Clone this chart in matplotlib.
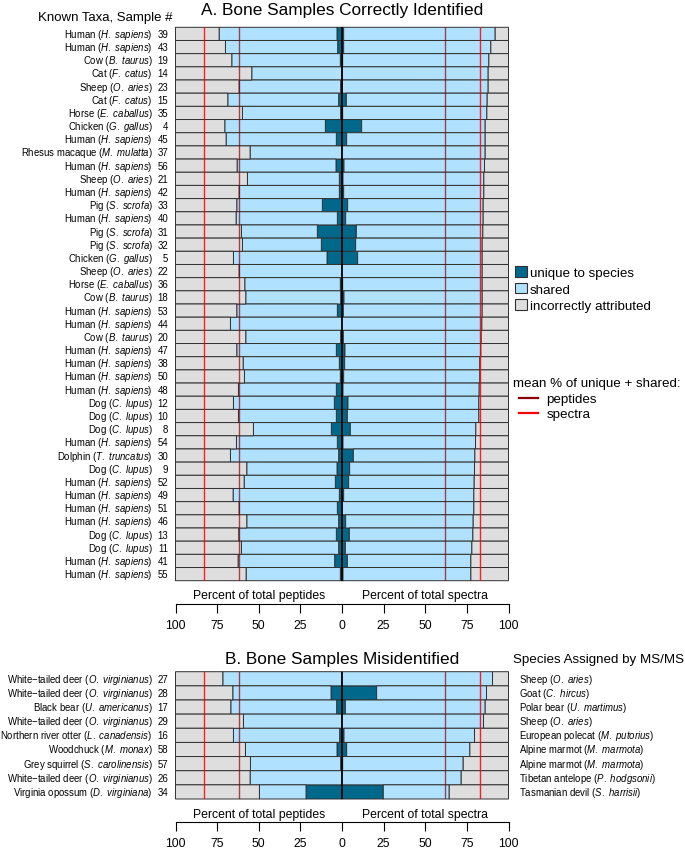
import matplotlib.pyplot as plt
import numpy as np
from matplotlib.lines import Line2D
from matplotlib.patches import Patch

plt.rcParams["font.family"] = "Liberation Sans"
plt.rcParams["mathtext.fontset"] = "custom"
plt.rcParams["mathtext.rm"] = "Liberation Sans"
plt.rcParams["mathtext.it"] = "Liberation Sans:italic"

FIG_W, FIG_H = 685, 854
UNIQUE_COLOR = "#00688B"
SHARED_COLOR = "#B0E2FF"
WRONG_COLOR = "#DEDEDE"
EDGE_COLOR = "#303030"
PEP_LINE = "#8B0000"
SPEC_LINE = "#FF0000"

# A. bone samples correctly identified (percent of total peptides / spectra)
A_COMMON = ["Human", "Human", "Cow", "Cat", "Sheep", "Cat", "Horse", "Chicken", "Human",
            "Rhesus macaque", "Human", "Sheep", "Human", "Pig", "Human", "Pig", "Pig",
            "Chicken", "Sheep", "Horse", "Cow", "Human", "Human", "Cow", "Human", "Human",
            "Human", "Human", "Dog", "Dog", "Dog", "Human", "Dolphin", "Dog", "Human",
            "Human", "Human", "Human", "Dog", "Dog", "Human", "Human"]
A_SCI = ["H. sapiens", "H. sapiens", "B. taurus", "F. catus", "O. aries", "F. catus",
         "E. caballus", "G. gallus", "H. sapiens", "M. mulatta", "H. sapiens", "O. aries",
         "H. sapiens", "S. scrofa", "H. sapiens", "S. scrofa", "S. scrofa", "G. gallus",
         "O. aries", "E. caballus", "B. taurus", "H. sapiens", "H. sapiens", "B. taurus",
         "H. sapiens", "H. sapiens", "H. sapiens", "H. sapiens", "C. lupus", "C. lupus",
         "C. lupus", "H. sapiens", "T. truncatus", "C. lupus", "H. sapiens", "H. sapiens",
         "H. sapiens", "H. sapiens", "C. lupus", "C. lupus", "H. sapiens", "H. sapiens"]
A_SAMPLE = [39, 43, 19, 14, 23, 15, 35, 4, 45, 37, 56, 21, 42, 33, 40, 31, 32, 5, 22, 36,
            18, 53, 44, 20, 47, 38, 50, 48, 12, 10, 8, 54, 30, 9, 52, 49, 51, 46, 13, 11,
            41, 55]
A_PEP_UNIQUE = [3.0, 2.6, 1.0, 0.3, 0.8, 2.0, 0.8, 10.0, 3.4, 0.0, 3.6, 1.6, 1.6, 11.8,
                2.8, 14.8, 12.4, 9.0, 0.0, 1.0, 0.8, 2.8, 0.0, 0.8, 3.4, 1.6, 1.0, 3.4,
                4.6, 3.4, 6.4, 2.8, 2.0, 3.0, 4.0, 1.6, 2.8, 2.0, 3.4, 2.0, 4.4, 1.0]
A_PEP_SHARED = [70.8, 67.4, 65.2, 53.9, 61.0, 66.6, 59.0, 60.4, 66.2, 55.2, 59.4, 55.2,
                60.2, 51.4, 60.8, 45.6, 47.4, 56.2, 61.8, 57.4, 57.0, 60.4, 67.0, 57.0,
                59.8, 57.8, 57.6, 58.8, 60.6, 58.8, 46.8, 60.6, 65.0, 54.2, 54.8, 63.8,
                59.0, 55.2, 58.6, 58.4, 58.0, 56.6]
A_SPEC_UNIQUE = [1.0, 1.0, 0.4, 0.2, 0.3, 2.6, 0.4, 11.8, 2.8, 0.0, 1.2, 0.6, 1.0, 3.4,
                 2.2, 8.6, 8.2, 9.4, 0.0, 0.4, 1.2, 0.8, 0.0, 0.8, 1.8, 1.6, 1.0, 0.6,
                 3.6, 3.2, 5.0, 0.6, 6.8, 4.6, 4.0, 1.0, 0.2, 2.2, 4.4, 2.0, 3.2, 0.6]
A_SPEC_SHARED = [91.0, 88.4, 87.8, 87.6, 87.5, 84.6, 86.6, 74.2, 83.2, 86.0, 84.4, 84.6,
                 84.2, 81.4, 82.6, 76.0, 76.0, 74.8, 84.2, 83.8, 83.0, 83.4, 84.0, 82.8,
                 81.6, 81.2, 81.8, 81.8, 78.6, 79.0, 75.4, 79.6, 73.0, 75.0, 75.4, 78.2,
                 79.0, 76.6, 74.2, 76.0, 74.2, 76.8]

# B. bone samples misidentified
B_COMMON = ["White\u2212tailed deer", "White\u2212tailed deer", "Black bear",
            "White\u2212tailed deer", "Northern river otter", "Woodchuck", "Grey squirrel",
            "White\u2212tailed deer", "Virginia opossum"]
B_SCI = ["O. virginianus", "O. virginianus", "U. americanus", "O. virginianus",
         "L. canadensis", "M. monax", "S. carolinensis", "O. virginianus", "D. virginiana"]
B_SAMPLE = [27, 28, 17, 29, 16, 58, 57, 26, 34]
B_ASSIGNED_COMMON = ["Sheep", "Goat", "Polar bear", "Sheep", "European polecat",
                     "Alpine marmot", "Alpine marmot", "Tibetan antelope", "Tasmanian devil"]
B_ASSIGNED_SCI = ["O. aries", "C. hircus", "U. martimus", "O. aries", "M. putorius",
                  "M. marmota", "M. marmota", "P. hodgsonii", "S. harrisii"]
B_PEP_UNIQUE = [0.0, 6.6, 3.2, 0.0, 1.4, 3.0, 0.8, 0.0, 21.6]
B_PEP_SHARED = [71.6, 59.0, 63.6, 59.2, 63.8, 55.0, 54.2, 55.2, 28.0]
B_SPEC_UNIQUE = [0.0, 20.8, 2.0, 0.0, 1.2, 2.8, 0.4, 0.0, 24.8]
B_SPEC_SHARED = [90.4, 66.0, 84.0, 85.0, 78.4, 74.0, 72.4, 71.6, 39.6]

TICKS = [-100, -75, -50, -25, 0, 25, 50, 75, 100]


def px(x):
    return x / FIG_W


def py(y):
    return 1 - y / FIG_H


def taxon_label(common, sci):
    return common + " ($\\mathit{" + sci.replace(" ", "\\ ") + "}$)"


def draw_panel(ax, pep_u, pep_s, spec_u, spec_s, pep_mean, spec_mean):
    pep_u, pep_s = np.array(pep_u), np.array(pep_s)
    spec_u, spec_s = np.array(spec_u), np.array(spec_s)
    rows = np.arange(len(pep_u))
    kw = dict(height=1.0, edgecolor=EDGE_COLOR, linewidth=0.7, clip_on=False)

    # peptides grow to the left, spectra to the right
    bars = [
        ax.barh(rows, -pep_u, color=UNIQUE_COLOR, **kw),
        ax.barh(rows, -pep_s, left=-pep_u, color=SHARED_COLOR, **kw),
        ax.barh(rows, -(100 - pep_u - pep_s), left=-(pep_u + pep_s), color=WRONG_COLOR, **kw),
        ax.barh(rows, spec_u, color=UNIQUE_COLOR, **kw),
        ax.barh(rows, spec_s, left=spec_u, color=SHARED_COLOR, **kw),
        ax.barh(rows, 100 - spec_u - spec_s, left=spec_u + spec_s, color=WRONG_COLOR, **kw),
    ]
    for container in bars:
        for patch in container:
            patch.set_snap(False)

    ax.axvline(0, color="black", linewidth=1.2, zorder=5)
    for side in (-1, 1):
        ax.axvline(side * pep_mean, color=PEP_LINE, linewidth=1.0, alpha=0.7, zorder=4)
        ax.axvline(side * spec_mean, color=SPEC_LINE, linewidth=1.0, alpha=0.85, zorder=4)

    ax.set_xlim(-100, 100)
    ax.set_ylim(len(rows) - 0.5, -0.5)
    ax.set_yticks([])
    for name in ("top", "right", "left"):
        ax.spines[name].set_visible(False)
    ax.spines["bottom"].set_position(("outward", 16.5))
    ax.spines["bottom"].set_linewidth(0.8)
    ax.set_xticks(TICKS)
    ax.set_xticklabels([str(abs(t)) for t in TICKS])
    ax.tick_params(axis="x", length=6.5, width=0.8, pad=4.5, labelsize=8.8)

    for xval, text in ((-50, "Percent of total peptides"), (50, "Percent of total spectra")):
        ax.annotate(text, xy=(xval, 0), xycoords=("data", "axes fraction"),
                    xytext=(0, -10.6), textcoords="offset points",
                    ha="center", va="center", fontsize=8.8, annotation_clip=False)


def label_rows(ax, commons, scis, samples):
    for i, (common, sci, sample) in enumerate(zip(commons, scis, samples)):
        ax.annotate(taxon_label(common, sci), xy=(0, i), xycoords=("axes fraction", "data"),
                    xytext=(-16.4, 0), textcoords="offset points",
                    ha="right", va="center", fontsize=6.9, annotation_clip=False)
        ax.annotate(str(sample), xy=(0, i), xycoords=("axes fraction", "data"),
                    xytext=(-5.2, 0), textcoords="offset points",
                    ha="right", va="center", fontsize=6.9, annotation_clip=False)


fig = plt.figure(figsize=(FIG_W / 100, FIG_H / 100), dpi=100)

pep_all = np.array(A_PEP_UNIQUE + B_PEP_UNIQUE) + np.array(A_PEP_SHARED + B_PEP_SHARED)
spec_all = np.array(A_SPEC_UNIQUE + B_SPEC_UNIQUE) + np.array(A_SPEC_SHARED + B_SPEC_SHARED)
pep_mean, spec_mean = pep_all.mean(), spec_all.mean()

ax_a = fig.add_axes([px(175.5), py(581.7), px(333), 553.4 / FIG_H])
draw_panel(ax_a, A_PEP_UNIQUE, A_PEP_SHARED, A_SPEC_UNIQUE, A_SPEC_SHARED, pep_mean, spec_mean)
label_rows(ax_a, A_COMMON, A_SCI, A_SAMPLE)

ax_b = fig.add_axes([px(175.5), py(800), px(333), 127.3 / FIG_H])
draw_panel(ax_b, B_PEP_UNIQUE, B_PEP_SHARED, B_SPEC_UNIQUE, B_SPEC_SHARED, pep_mean, spec_mean)
label_rows(ax_b, B_COMMON, B_SCI, B_SAMPLE)
for i, (common, sci) in enumerate(zip(B_ASSIGNED_COMMON, B_ASSIGNED_SCI)):
    ax_b.annotate(taxon_label(common, sci), xy=(1, i), xycoords=("axes fraction", "data"),
                  xytext=(7.6, 0), textcoords="offset points",
                  ha="left", va="center", fontsize=6.9, annotation_clip=False)

fig.text(px(342), py(11), "A. Bone Samples Correctly Identified", ha="center", va="center",
         fontsize=12.4)
fig.text(px(342), py(660), "B. Bone Samples Misidentified", ha="center", va="center",
         fontsize=12.4)
fig.text(px(172), py(18), "Known Taxa, Sample #", ha="right", va="center", fontsize=9.5)
fig.text(px(513), py(660), "Species Assigned by MS/MS", ha="left", va="center", fontsize=9.6)

fill_handles = [Patch(facecolor=c, edgecolor=EDGE_COLOR, linewidth=0.8)
                for c in (UNIQUE_COLOR, SHARED_COLOR, WRONG_COLOR)]
fig.legend(fill_handles, ["unique to species", "shared", "incorrectly attributed"],
           loc="upper left", bbox_to_anchor=(px(515), py(267)), frameon=False,
           fontsize=9.6, handlelength=0.9, handleheight=0.85, handletextpad=0.2,
           labelspacing=0.28, borderpad=0, borderaxespad=0)

fig.text(px(513), py(384), "mean % of unique + shared:", ha="left", va="center", fontsize=9.6)
line_handles = [Line2D([], [], color=PEP_LINE, linewidth=1.6),
                Line2D([], [], color=SPEC_LINE, linewidth=1.6)]
fig.legend(line_handles, ["peptides", "spectra"], loc="upper left",
           bbox_to_anchor=(px(519), py(394)), frameon=False, fontsize=9.6,
           handlelength=1.45, handletextpad=0.6, labelspacing=0.2, borderpad=0,
           borderaxespad=0)

fig.savefig("out.png", dpi=100)
